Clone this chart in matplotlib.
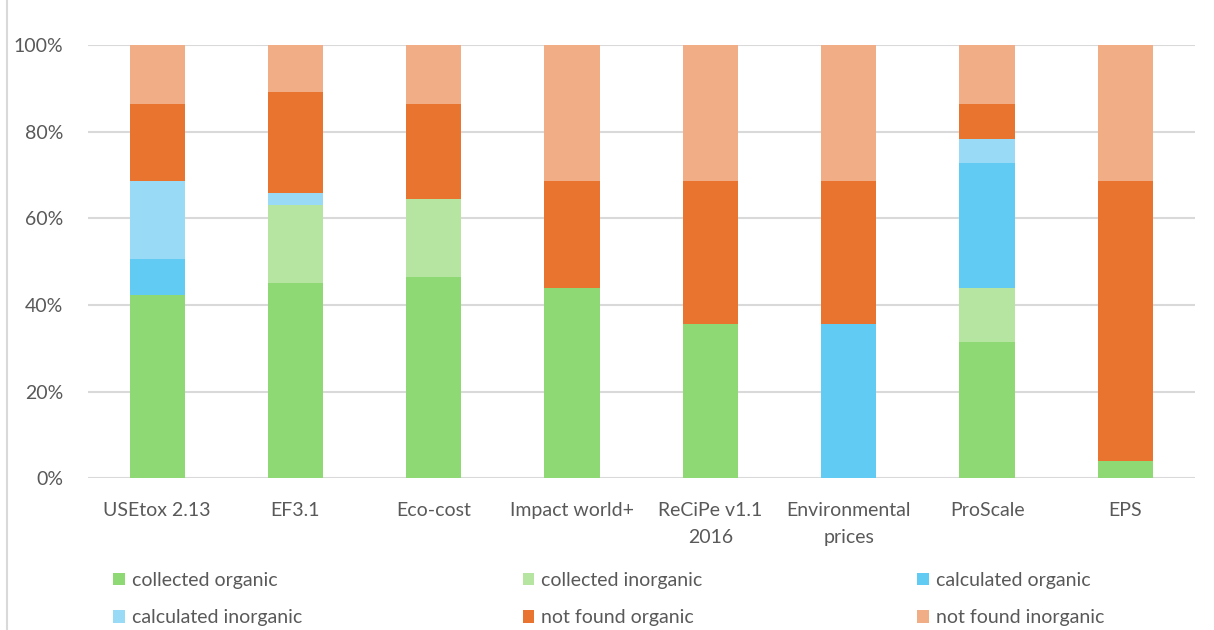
import matplotlib.pyplot as plt
import numpy as np
from matplotlib.patches import Patch
from matplotlib.lines import Line2D

plt.rcParams['font.family'] = ['Lato', 'DejaVu Sans']

methods = ["USEtox 2.13", "EF3.1", "Eco-cost", "Impact world+", "ReCiPe v1.1\n2016",
           "Environmental\nprices", "ProScale", "EPS"]

# share of substances per method (%), stacked bottom to top
collected_organic = [42.3, 45.2, 46.5, 44.0, 35.6, 0.0, 31.5, 4.0]
collected_inorganic = [0.0, 17.9, 18.0, 0.0, 0.0, 0.0, 12.4, 0.0]
calculated_organic = [8.4, 0.0, 0.0, 0.0, 0.0, 35.6, 28.9, 0.0]
calculated_inorganic = [17.9, 2.7, 0.0, 0.0, 0.0, 0.0, 5.4, 0.0]
not_found_organic = [17.7, 23.4, 21.8, 24.6, 33.0, 33.0, 8.1, 64.6]
not_found_inorganic = [13.7, 10.8, 13.7, 31.4, 31.4, 31.4, 13.7, 31.4]

series = [
    ("collected organic", collected_organic, "#8fd974"),
    ("collected inorganic", collected_inorganic, "#b5e5a1"),
    ("calculated organic", calculated_organic, "#61cbf3"),
    ("calculated inorganic", calculated_inorganic, "#99dbf7"),
    ("not found organic", not_found_organic, "#e87430"),
    ("not found inorganic", not_found_inorganic, "#f0ad86"),
]

fig = plt.figure(figsize=(12.14, 6.3), dpi=100)
ax = fig.add_axes([0.0725, 0.2405, 0.9115, 0.6881])

x = np.arange(len(methods))
bottom = np.zeros(len(methods))
for name, vals, col in series:
    vals = np.array(vals) / 100.0
    ax.bar(x, vals, 0.4, bottom=bottom, color=col, label=name, zorder=3)
    bottom += vals

ax.set_xlim(-0.5, len(methods) - 0.5)
ax.set_ylim(0, 1)
ax.set_yticks(np.arange(0, 1.01, 0.2))
ax.set_yticklabels(["{:d}%".format(int(round(v * 100))) for v in np.arange(0, 1.01, 0.2)])
ax.set_xticks(x)
ax.set_xticklabels(methods, linespacing=1.7)

ax.grid(axis='y', color='#d9d9d9', linewidth=1.5, zorder=0)
for s in ax.spines.values():
    s.set_visible(False)
ax.tick_params(length=0, labelsize=14, colors='#595959')
ax.tick_params(axis='x', pad=17)
ax.tick_params(axis='y', pad=18)

# frame line on the left
fig.add_artist(Line2D([0.006, 0.006], [0, 1], color='#d9d9d9', linewidth=1.5))

# legend: three columns with two rows each
cols_x = [0.079, 0.416, 0.741]
for i, cx in enumerate(cols_x):
    handles = [Patch(facecolor=series[i][2]), Patch(facecolor=series[i + 3][2])]
    labels = [series[i][0], series[i + 3][0]]
    fig.legend(handles, labels, loc='upper left', bbox_to_anchor=(cx, 0.12),
               frameon=False, handlelength=0.6, handleheight=0.6, handletextpad=0.35,
               labelspacing=1.05, fontsize=14, labelcolor='#595959',
               bbox_transform=fig.transFigure)

fig.savefig("out.png", dpi=100)
